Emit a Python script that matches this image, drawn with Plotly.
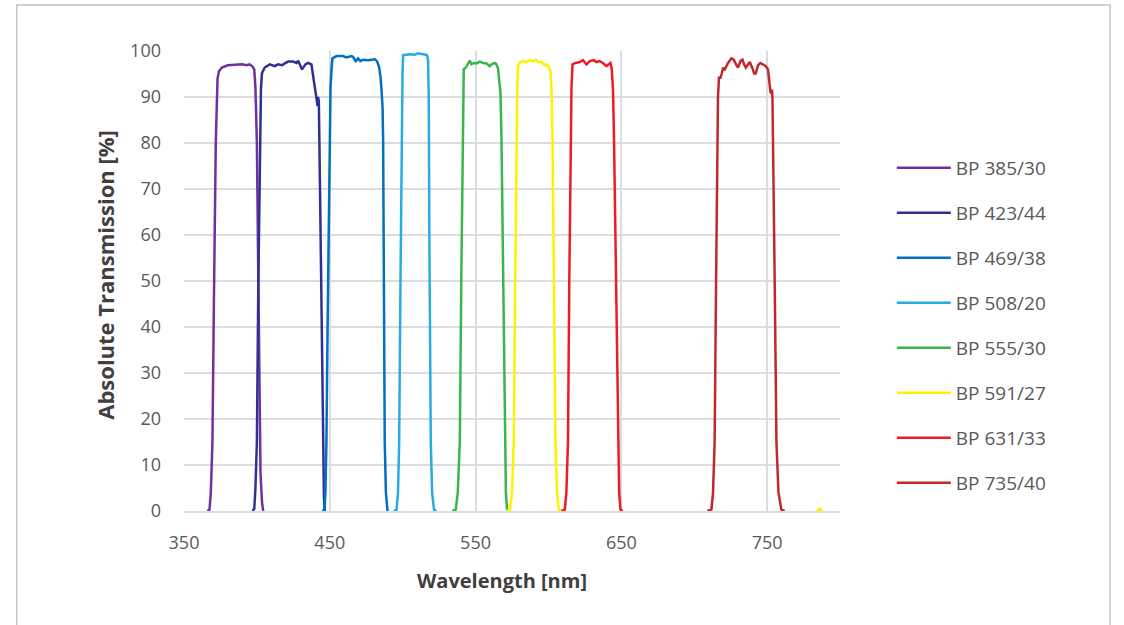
import plotly.graph_objects as go

# ---- data (wavelength nm, transmission %) ----
names = ["BP 385/30", "BP 423/44", "BP 469/38", "BP 508/20",
         "BP 555/30", "BP 591/27", "BP 631/33", "BP 735/40"]
colors = ["#7030A0", "#2E3192", "#0070C0", "#29ABE2",
          "#39B54A", "#FFF200", "#ED1C24", "#C1272D"]

bp385_x = [366, 367.5, 368.4, 369.5, 370.5, 371.8, 373, 374, 376, 380, 385, 390, 393, 395, 397, 398.2, 399, 400, 401, 401.8, 402.5, 403.5, 404.3]
bp385_y = [0, 0.3, 4, 15, 45, 80, 94, 95.6, 96.4, 96.9, 97.0, 97.1, 96.9, 97.1, 96.6, 96, 92, 80, 50, 20, 8, 2, 0]

bp423_x = [397, 398.2, 399, 400, 401, 402, 402.8, 403.5, 405.4, 408.8, 412.3, 414.5, 417.3, 419.1, 421.4, 424.8, 427.2, 428.3, 431, 433.3, 435.1, 437.4, 438.5, 439.7, 440.9, 441.6, 442, 442.5, 443.3, 444.3, 445.4, 446, 446.6]
bp423_y = [0, 0.5, 5, 15, 50, 80, 92, 95.2, 96.4, 97.1, 96.7, 97.1, 96.9, 97.3, 97.7, 97.7, 97.4, 97.9, 96, 97.1, 97.4, 97.1, 95.1, 92.2, 89.7, 88, 90, 89, 70, 40, 15, 3, 0]

bp469_x = [445, 446.4, 447, 447.7, 448.5, 449.7, 450.5, 451.2, 451.8, 454.6, 459.1, 461.4, 463.7, 464.9, 466, 467.8, 469.4, 471, 472.8, 476.3, 480.9, 482.4, 483.8, 484.8, 485.5, 486.2, 486.6, 487.2, 487.7, 488.5, 489.6]
bp469_y = [0, 0.3, 4, 15, 40, 80, 92, 96, 98.4, 98.9, 98.9, 98.6, 98.7, 98.9, 98.7, 97.8, 98.4, 97.8, 98.1, 98, 98.2, 97.8, 96.5, 94.4, 91.5, 87.8, 80.6, 50, 15, 4, 0]

bp508_x = [494, 495.8, 496.8, 497.6, 498.5, 499.2, 499.9, 500.3, 504.9, 508.3, 510.6, 514, 516.7, 517.4, 517.9, 518.3, 519.3, 520.2, 521.5, 523]
bp508_y = [0, 0.3, 4, 15, 50, 80, 95, 99.1, 99.3, 99.2, 99.5, 99.3, 99.1, 98, 90, 60, 15, 4, 0.3, 0]

bp555_x = [534, 536.4, 537.8, 539.2, 540.2, 541, 541.4, 541.9, 543.3, 544.9, 546, 547.2, 548.8, 550.6, 552.9, 555.2, 557.5, 559.7, 560.9, 563.2, 564.3, 565.4, 566.1, 567.1, 567.8, 568.8, 570, 570.8, 571.6, 573]
bp555_y = [0, 0.3, 4, 15, 50, 80, 92, 96, 96.4, 97.4, 97.9, 97.1, 97.4, 97.3, 97.7, 97.4, 97.3, 96.7, 97.1, 97.4, 97.1, 96.2, 94.4, 90.8, 80.6, 50, 15, 4, 0.3, 0]

bp591_x = [571, 573.7, 575, 576.2, 577.2, 578, 578.6, 579.2, 580.8, 583.1, 584.9, 587.2, 589.5, 591.3, 592.9, 595.2, 597.5, 598.6, 600.4, 601.4, 602.1, 602.8, 603.8, 604.8, 605.9, 607.1, 609, None, 784, 786, 788]
bp591_y = [0, 0.3, 4, 15, 50, 80, 92, 96.9, 97.6, 97.8, 97.6, 98, 97.8, 98.1, 97.6, 97.6, 96.9, 97.1, 96.5, 95.5, 91.5, 80.6, 50, 15, 4, 0.3, 0, None, 0, 0.5, 0]

bp631_x = [609, 611.2, 612.3, 613.4, 614.3, 615.1, 615.8, 616.5, 618.7, 621.5, 623.7, 626.1, 628.3, 631.1, 632.9, 635.2, 637.4, 639.8, 641.6, 642.5, 643.4, 644.3, 645, 646.3, 647.7, 648.5, 649.4, 651]
bp631_y = [0, 0.3, 4, 15, 50, 80, 92, 97.1, 97.4, 97.6, 98, 97.1, 97.8, 98, 97.6, 97.8, 97.4, 96.7, 97.1, 97.4, 96.2, 91.5, 80.6, 50, 15, 4, 0.3, 0]

bp735_x = [709, 711.8, 712.9, 714, 715, 715.6, 716.3, 717, 718, 718.9, 719.8, 720.7, 721.6, 723.2, 725.5, 727.1, 729, 730.1, 731.7, 733.1, 734.2, 735.4, 736.5, 738.1, 740, 741.1, 742.2, 743.8, 745.4, 747.2, 749.1, 750.6, 751.3, 751.8, 752.3, 753, 753.4, 753.7, 754.1, 755.2, 756.4, 757.8, 759.8, 762]
bp735_y = [0, 0.3, 4, 15, 50, 80, 90, 94.2, 94.2, 95.1, 96.4, 95.8, 96.5, 97.4, 98.4, 98.1, 96.9, 96.4, 97.8, 98.1, 97.1, 96.4, 96.9, 97.6, 96.2, 95.1, 95.1, 96.9, 97.4, 97.1, 96.7, 96, 94.4, 92.2, 91.1, 90.8, 91.6, 89.3, 80.6, 50, 15, 4, 0.3, 0]

xs = [bp385_x, bp423_x, bp469_x, bp508_x, bp555_x, bp591_x, bp631_x, bp735_x]
ys = [bp385_y, bp423_y, bp469_y, bp508_y, bp555_y, bp591_y, bp631_y, bp735_y]

x_ticks = [350, 450, 550, 650, 750]
y_ticks = [0, 10, 20, 30, 40, 50, 60, 70, 80, 90, 100]
x_title = "Wavelength [nm]"
y_title = "Absolute Transmission [%]"

FONT = "Open Sans, Segoe UI, sans-serif"
GRID = "#D9DDE3"

fig = go.Figure()
for i, (n, c) in enumerate(zip(names, colors)):
    fig.add_trace(go.Scatter(
        x=xs[i], y=ys[i], name=n, mode="lines",
        line=dict(color=c, width=2.5), legendgroup=n,
        connectgaps=False,
    ))

fig.update_layout(
    width=1124, height=625,
    margin=dict(l=184, r=284, t=51, b=114),
    paper_bgcolor="white", plot_bgcolor="white",
    font=dict(family=FONT, size=18, color="#595959"),
    showlegend=True,
    legend=dict(
        x=1.079, xanchor="left", y=0.787, yanchor="top",
        font=dict(family=FONT, size=19, color="#595959"),
        traceorder="grouped", tracegroupgap=17.3, itemwidth=54,
        bgcolor="rgba(0,0,0,0)",
    ),
    xaxis=dict(
        range=[350, 800], tickmode="array", tickvals=x_ticks,
        showgrid=True, gridcolor=GRID, gridwidth=1.5,
        showline=True, linecolor=GRID, linewidth=2,
        zeroline=False, ticks="", ticklabelstandoff=14,
        tickfont=dict(size=18, color="#595959"),
    ),
    yaxis=dict(
        range=[0, 100], tickmode="array", tickvals=y_ticks,
        showgrid=True, gridcolor=GRID, gridwidth=1.5,
        showline=False, zeroline=False, ticks="", ticklabelstandoff=22,
        tickfont=dict(size=18, color="#595959"),
    ),
)

# axis titles
fig.add_annotation(text="<b>" + x_title + "</b>", xref="paper", yref="paper",
                   x=0.4846, y=-0.152, xanchor="center", yanchor="middle",
                   showarrow=False, font=dict(family=FONT, size=20, color="#404040"))
fig.add_annotation(text="<b>" + y_title + "</b>", xref="paper", yref="paper",
                   x=-0.1208, y=0.513, xanchor="center", yanchor="middle",
                   textangle=-90, showarrow=False,
                   font=dict(family=FONT, size=22, color="#404040"))

# outer chart border
fig.add_shape(type="rect", xref="paper", yref="paper",
              x0=-0.255, x1=1.4117, y0=-0.30, y1=1.10,
              line=dict(color="#BFC5CE", width=1.5), layer="below")

fig.write_html("out.html")
